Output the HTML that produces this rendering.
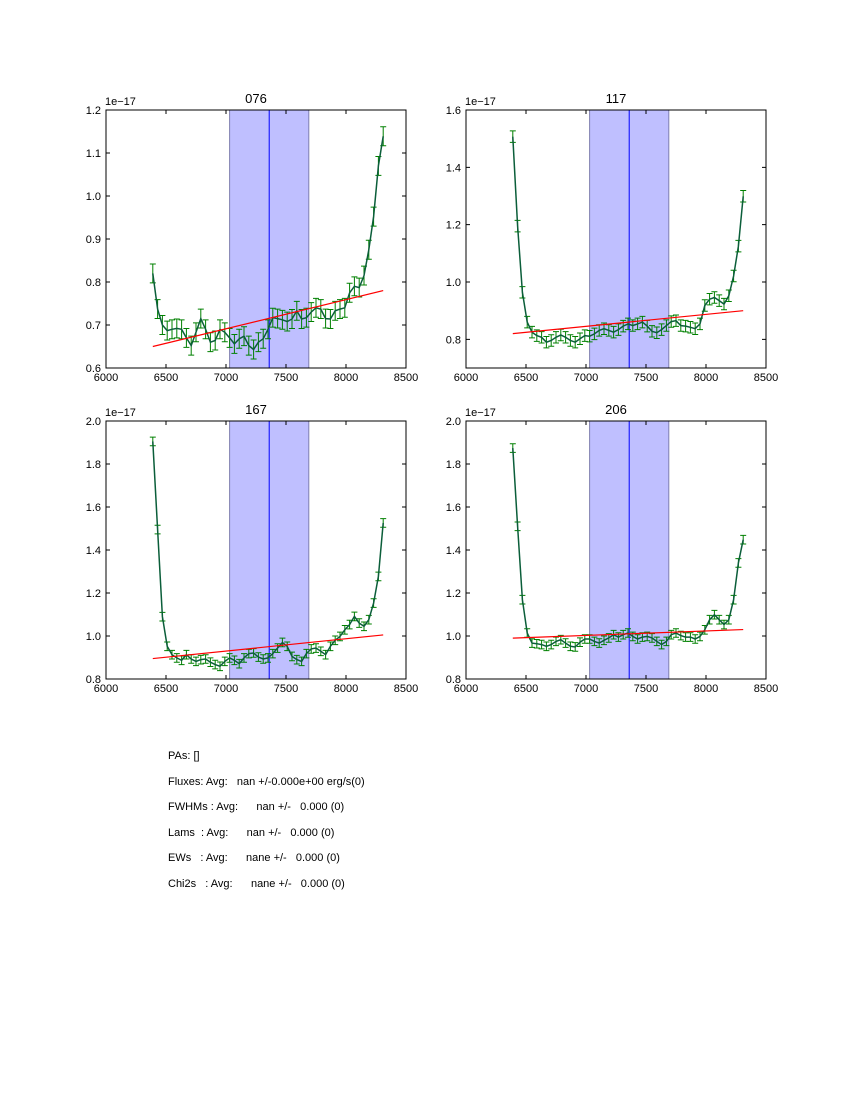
<!DOCTYPE html>
<html><head><meta charset="utf-8">
<style>
body{margin:0;background:#fff;width:850px;height:1100px;overflow:hidden;font-family:"Liberation Sans",sans-serif;}
svg text{font-family:"Liberation Sans",sans-serif;}
#info{position:absolute;left:168px;top:744px;font-size:11px;line-height:25.6px;white-space:pre;color:#000;}
</style></head><body>
<svg id="fig" width="850" height="1100" xmlns="http://www.w3.org/2000/svg"></svg>
<div id="info">PAs: []
Fluxes: Avg:   nan +/-0.000e+00 erg/s(0)
FWHMs : Avg:      nan +/-   0.000 (0)
Lams  : Avg:      nan +/-   0.000 (0)
EWs   : Avg:      nane +/-   0.000 (0)
Chi2s   : Avg:      nane +/-   0.000 (0)</div>
<script>
const wavelengths = [6390,6430,6470,6510,6550,6590,6630,6670,6710,6750,6790,6830,6870,6910,6950,6990,7030,7070,7110,7150,7190,7230,7270,7310,7350,7390,7430,7470,7510,7550,7590,7630,7670,7710,7750,7790,7830,7870,7910,7950,7990,8030,8070,8110,8150,8190,8230,8270,8310];
const xTicks = [6000,6500,7000,7500,8000,8500];
const titles = ["076","117","167","206"];
const flux076 = [0.82,0.737,0.70,0.687,0.69,0.692,0.69,0.67,0.652,0.683,0.715,0.69,0.66,0.664,0.69,0.683,0.67,0.656,0.668,0.674,0.652,0.643,0.66,0.668,0.69,0.717,0.715,0.712,0.708,0.714,0.733,0.714,0.717,0.73,0.74,0.737,0.715,0.714,0.733,0.737,0.74,0.775,0.79,0.787,0.815,0.875,0.952,1.07,1.139];
const flux117 = [1.507,1.195,0.964,0.86,0.825,0.813,0.807,0.79,0.796,0.807,0.815,0.807,0.796,0.79,0.802,0.813,0.811,0.819,0.831,0.837,0.831,0.825,0.834,0.846,0.854,0.848,0.854,0.86,0.846,0.828,0.823,0.834,0.848,0.862,0.865,0.848,0.846,0.842,0.837,0.854,0.918,0.94,0.946,0.935,0.923,0.952,1.021,1.125,1.299];
const flux167 = [1.905,1.495,1.09,0.952,0.913,0.898,0.887,0.913,0.893,0.882,0.89,0.893,0.878,0.867,0.859,0.882,0.898,0.887,0.871,0.898,0.918,0.921,0.902,0.893,0.898,0.918,0.944,0.97,0.952,0.905,0.89,0.882,0.918,0.94,0.944,0.929,0.913,0.952,0.98,0.998,1.029,1.053,1.091,1.06,1.045,1.076,1.153,1.277,1.526];
const flux206 = [1.874,1.51,1.169,1.014,0.967,0.964,0.96,0.952,0.96,0.975,0.983,0.967,0.952,0.949,0.971,0.986,0.986,0.975,0.967,0.98,0.991,1.006,0.995,1.006,1.014,0.998,0.986,0.995,0.998,0.991,0.975,0.96,0.975,1.006,1.014,1.002,0.995,0.995,0.986,0.998,1.029,1.076,1.099,1.076,1.053,1.076,1.169,1.34,1.448];
const errors = [0.022,0.02,0.02,0.02];
const fitStart = [0.65,0.82,0.895,0.99];
const fitEnd = [0.78,0.90,1.005,1.03];
const yMins = [0.6,0.7,0.8,0.8];
const yMaxs = [1.2,1.6,2.0,2.0];
const yTicks076 = [0.6,0.7,0.8,0.9,1.0,1.1,1.2];
const yTicks117 = [0.8,1.0,1.2,1.4,1.6];
const yTicks167 = [0.8,1.0,1.2,1.4,1.6,1.8,2.0];
const yTicks206 = [0.8,1.0,1.2,1.4,1.6,1.8,2.0];
const bandLo = 7030, bandHi = 7690, lineCenter = 7360;

const fluxes=[flux076,flux117,flux167,flux206];
const yTickSets=[yTicks076,yTicks117,yTicks167,yTicks206];
const boxes=[[106,110],[466,110],[106,421],[466,421]];
const W=300,H=258;
const NS="http://www.w3.org/2000/svg";
const fig=document.getElementById('fig');
function mk(tag,attrs,parent){const e=document.createElementNS(NS,tag);for(const k in attrs)e.setAttribute(k,attrs[k]);parent.appendChild(e);return e;}

for(let p=0;p<4;p++){
  const [x0,y0]=boxes[p];
  const ymin=yMins[p],ymax=yMaxs[p];
  const X=v=>x0+(v-6000)/2500*W;
  const Y=v=>y0+H-(v-ymin)/(ymax-ymin)*H;
  const g=mk('g',{},fig);
  
  
  const band=mk('rect',{x:X(bandLo),y:y0,width:X(bandHi)-X(bandLo),height:H,fill:'#bfbfff',stroke:'#8080b0','stroke-width':1},g);
  
  
  const cl=mk('line',{x1:X(lineCenter),x2:X(lineCenter),y1:y0,y2:y0+H,stroke:'#0000ff','stroke-width':1},g);
  
  
  const f=fluxes[p],e=errors[p];
  for(let i=0;i<f.length;i++){
    const x=X(wavelengths[i]);
    const eb=mk('path',{d:`M${x},${Y(f[i]-e)}V${Y(f[i]+e)}M${x-3},${Y(f[i]-e)}h6M${x-3},${Y(f[i]+e)}h6`,stroke:'#008000','stroke-width':1,fill:'none'},g);
    
    
  }
  const pts=f.map((v,i)=>X(wavelengths[i]).toFixed(1)+','+Y(v).toFixed(1)).join(' ');
  const sp=mk('polyline',{points:pts,fill:'none',stroke:'#0b5e3a','stroke-width':1.5},g);
  
  
  const fit=mk('line',{x1:X(wavelengths[0]),y1:Y(fitStart[p]),x2:X(wavelengths[wavelengths.length-1]),y2:Y(fitEnd[p]),stroke:'#ff0000','stroke-width':1.2},g);
  
  
  const fr=mk('rect',{x:x0,y:y0,width:W,height:H,fill:'none',stroke:'#000','stroke-width':1},g);
  
  
  xTicks.forEach(t=>{
    const x=X(t);
    mk('path',{d:`M${x},${y0+H}v-4M${x},${y0}v4`,stroke:'#000'},g);
    const tx=mk('text',{x:x,y:y0+H+13,'font-size':11,'text-anchor':'middle'},g);
    tx.textContent=t;
    
    
  });
  yTickSets[p].forEach(t=>{
    const y=Y(t);
    mk('path',{d:`M${x0},${y}h4M${x0+W},${y}h-4`,stroke:'#000'},g);
    const tx=mk('text',{x:x0-5,y:y+4,'font-size':11,'text-anchor':'end'},g);
    tx.textContent=t.toFixed(1);
    
    
  });
  const off=mk('text',{x:x0-1,y:y0-5,'font-size':11},g);
  off.textContent='1e\u221217';
  
  
  const ti=mk('text',{x:x0+W/2,y:y0-7,'font-size':13,'text-anchor':'middle'},g);
  ti.textContent=titles[p];
  
  
}
</script>
</body></html>
